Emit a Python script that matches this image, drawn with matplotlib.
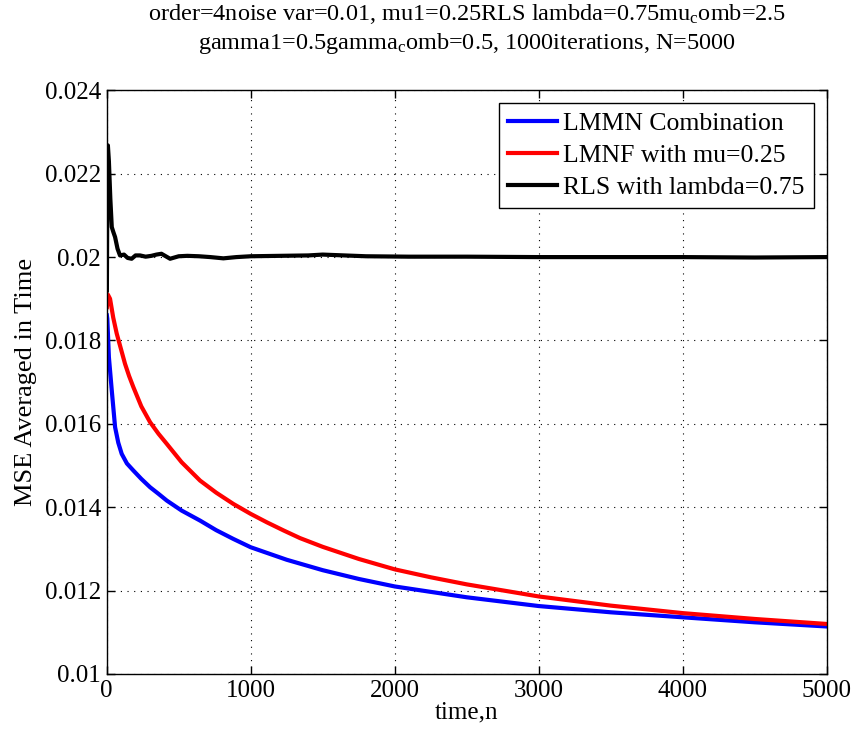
import matplotlib
matplotlib.use("Agg")
import matplotlib.pyplot as plt

plt.rcParams["font.family"] = ["Liberation Serif", "DejaVu Serif"]
plt.rcParams["mathtext.fontset"] = "custom"
plt.rcParams["mathtext.rm"] = "Liberation Serif"
plt.rcParams["mathtext.it"] = "Liberation Serif"

# time-averaged MSE read at selected iterations
n_lmmn = [1, 4, 15, 35, 58, 80, 104, 140, 185, 240, 301, 360, 417, 520, 648, 760, 879,
          1000, 1250, 1500, 1750, 2000, 2500, 3000, 3500, 4000, 4500, 5000]
mse_lmmn = [0.0186, 0.01852, 0.0176, 0.0168, 0.01592, 0.01555, 0.01528, 0.01505, 0.01488,
            0.01468, 0.01448, 0.01432, 0.01416, 0.01392, 0.01368, 0.01345, 0.01324,
            0.01304, 0.01274, 0.01249, 0.01228, 0.01210, 0.01184, 0.01163, 0.01148,
            0.01136, 0.01124, 0.01114]

n_lmnf = [1, 8, 23, 45, 69, 100, 127, 155, 185, 240, 301, 360, 417, 520, 648, 760, 879,
          1000, 1111, 1230, 1342, 1500, 1750, 2000, 2250, 2500, 3000, 3500, 4000, 4500, 5000]
mse_lmnf = [0.0188, 0.0191, 0.0190, 0.01855, 0.01817, 0.01778, 0.01744, 0.01715, 0.01688,
            0.01642, 0.01604, 0.01576, 0.01552, 0.01508, 0.01464, 0.01435, 0.01408,
            0.01384, 0.01364, 0.01344, 0.01326, 0.01305, 0.01276, 0.01251, 0.01232,
            0.01215, 0.01186, 0.01164, 0.01146, 0.01132, 0.01120]

n_rls = [1, 4, 8, 15, 25, 35, 46, 58, 75, 92, 120, 145, 173, 200, 231, 270, 310, 345, 380,
         410, 440, 500, 560, 640, 720, 810, 900, 1000, 1200, 1400, 1500, 1650, 1800,
         2100, 2500, 3000, 3500, 4000, 4500, 5000]
mse_rls = [0.0192, 0.0215, 0.02268, 0.0223, 0.0214, 0.02072, 0.0206, 0.02048, 0.0202,
           0.02004, 0.02006, 0.01998, 0.01996, 0.02004, 0.02004, 0.02001, 0.02003, 0.02006,
           0.02008, 0.02002, 0.01996, 0.02002, 0.02003, 0.02002, 0.02000, 0.01997, 0.02000,
           0.02002, 0.02003, 0.02004, 0.02006, 0.02004, 0.02002, 0.02001, 0.02001, 0.02000,
           0.02000, 0.02000, 0.01999, 0.02000]

labels = ["LMMN Combination", "LMNF with mu=0.25", "RLS with lambda=0.75"]

fig = plt.figure(figsize=(8.58, 7.35), dpi=100)
ax = fig.add_axes([0.1244, 0.083, 0.8391, 0.7941])

ax.plot(n_lmmn, mse_lmmn, color="#0000ff", lw=3, label=labels[0])
ax.plot(n_lmnf, mse_lmnf, color="#ff0000", lw=3, label=labels[1])
ax.plot(n_rls, mse_rls, color="#000000", lw=3, label=labels[2])

ax.set_xlim(0, 5000)
ax.set_ylim(0.01, 0.024)
ax.set_xticks(range(0, 5001, 1000))
ax.set_yticks([0.01, 0.012, 0.014, 0.016, 0.018, 0.02, 0.022, 0.024])
ax.set_yticklabels(["0.01", "0.012", "0.014", "0.016", "0.018", "0.02", "0.022", "0.024"])
ax.tick_params(direction="in", length=6, width=1, top=True, right=True, labelsize=18, pad=4)
ax.grid(True, linestyle=(0, (1, 5)), color="black", linewidth=0.8)
for sp in ax.spines.values():
    sp.set_linewidth(1)

ax.set_xlabel("time,n", fontsize=18, labelpad=0)
ax.set_ylabel("MSE Averaged in Time", fontsize=19, labelpad=6)
ax.set_title("order=4noise var=0.01, mu1=0.25RLS lambda=0.75mu$_{\\mathrm{c}}$omb=2.5\n"
             "gamma1=0.5gamma$_{\\mathrm{c}}$omb=0.5, 1000iterations, N=5000",
             fontsize=17.5, pad=30, linespacing=1.28)

leg = ax.legend(loc="upper right", fontsize=18.5, frameon=True, fancybox=False,
                edgecolor="black", framealpha=1, handlelength=1.9, borderpad=0.35,
                labelspacing=0.35, handletextpad=0.25, borderaxespad=0.5)
leg.get_frame().set_linewidth(1)

fig.savefig("out.png", dpi=100)
